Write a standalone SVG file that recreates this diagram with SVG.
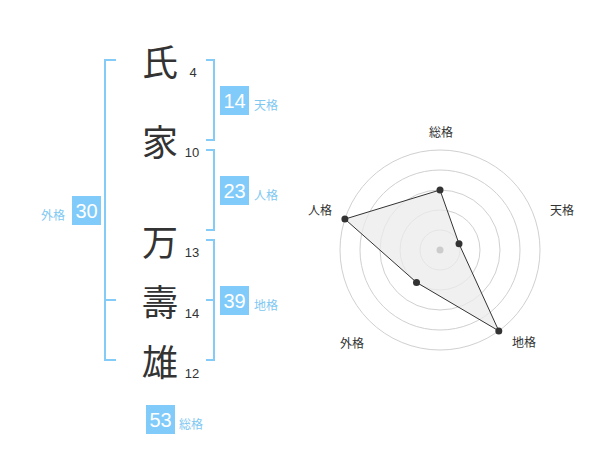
<svg xmlns="http://www.w3.org/2000/svg" width="600" height="470" viewBox="0 0 600 470">
<style>
.ch{font-family:"Noto Sans CJK JP","Noto Sans CJK SC",sans-serif;font-size:36px;fill:#333;text-anchor:middle;dominant-baseline:central}
.num{font-family:"Liberation Sans",Arial,sans-serif;font-size:13px;fill:#333;text-anchor:middle}
.br{fill:none;stroke:#85cbf7;stroke-width:2}
.box{fill:#80cbfa}
.bn{font-family:"Liberation Sans",Arial,sans-serif;font-size:20px;fill:#fff;text-anchor:middle;dominant-baseline:central}
.lb{font-family:"Noto Sans CJK JP","Noto Sans CJK SC",sans-serif;font-size:12px;fill:#80c8f2;dominant-baseline:central}
.rl{font-family:"Noto Sans CJK JP","Noto Sans CJK SC",sans-serif;font-size:12px;fill:#333;text-anchor:middle;dominant-baseline:central}
.ring{fill:none;stroke:#d0d0d0;stroke-width:1}
.pt{fill:#333}
</style>
<rect width="600" height="470" fill="#fff"/>
<g id="connectors">
<path class="br" d="M116,60 H105 V360 H116 M105,300 H116"/>
<path class="br" d="M206,60 H214 V140 H206"/>
<path class="br" d="M206,150 H214 V230 H206"/>
<path class="br" d="M206,240 H214 V360 H206 M206,300 H214"/>
</g>
<g id="char-1"><text class="ch" x="160" y="60">氏</text><text class="num" x="193" y="77">4</text></g>
<g id="char-2"><text class="ch" x="160" y="140">家</text><text class="num" x="192" y="157">10</text></g>
<g id="char-3"><text class="ch" x="160" y="240">万</text><text class="num" x="192" y="257">13</text></g>
<g id="char-4"><text class="ch" x="160" y="300">壽</text><text class="num" x="192" y="318">14</text></g>
<g id="char-5"><text class="ch" x="160" y="360">雄</text><text class="num" x="192" y="378">12</text></g>
<g id="tenkaku"><rect class="box" x="220" y="86" width="29" height="29"/><text class="bn" x="234.5" y="101">14</text><text class="lb" x="254" y="104">天格</text></g>
<g id="jinkaku"><rect class="box" x="220" y="176" width="29" height="29"/><text class="bn" x="234.5" y="191">23</text><text class="lb" x="254" y="194">人格</text></g>
<g id="chikaku"><rect class="box" x="220" y="286" width="29" height="29"/><text class="bn" x="234.5" y="301">39</text><text class="lb" x="254" y="304">地格</text></g>
<g id="gaikaku"><rect class="box" x="72" y="196" width="29" height="29"/><text class="bn" x="86.5" y="211">30</text><text class="lb" x="41" y="214">外格</text></g>
<g id="soukaku"><rect class="box" x="146" y="405" width="29" height="29"/><text class="bn" x="160.5" y="420">53</text><text class="lb" x="179" y="423">総格</text></g>
<g id="radar">
<circle class="ring" cx="440" cy="250" r="20"/>
<circle class="ring" cx="440" cy="250" r="40"/>
<circle class="ring" cx="440" cy="250" r="60"/>
<circle class="ring" cx="440" cy="250" r="80"/>
<circle class="ring" cx="440" cy="250" r="100"/>
<polygon points="440,190 459,243.8 498.8,330.9 416.5,282.4 344.9,219.1" fill="#ebebeb" fill-opacity="0.75" stroke="#333" stroke-width="1"/>
<circle cx="440" cy="250" r="3.5" fill="#ccc"/>
<circle class="pt" cx="440" cy="190" r="3.5"/>
<circle class="pt" cx="459" cy="243.8" r="3.5"/>
<circle class="pt" cx="498.8" cy="330.9" r="3.5"/>
<circle class="pt" cx="416.5" cy="282.4" r="3.5"/>
<circle class="pt" cx="344.9" cy="219.1" r="3.5"/>
<text class="rl" x="441" y="131">総格</text>
<text class="rl" x="562" y="209">天格</text>
<text class="rl" x="524" y="341">地格</text>
<text class="rl" x="352" y="342">外格</text>
<text class="rl" x="320" y="209">人格</text>
</g>
</svg>
